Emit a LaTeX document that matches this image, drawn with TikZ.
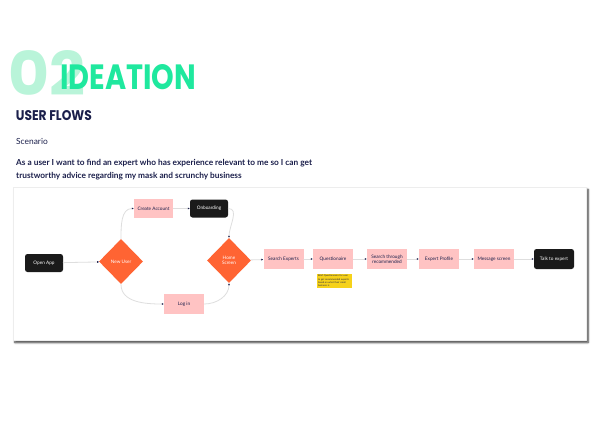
\documentclass[tikz,border=0pt]{standalone}
\usepackage{fontspec}
\setmainfont{Lato}
\newfontfamily\headfont{Poppins}
\usepackage{graphicx}
\usetikzlibrary{arrows.meta,shapes.geometric,shadows.blur}
\definecolor{IdeaGreen}{HTML}{1FE89E}
\definecolor{IdeaMint}{HTML}{B9F4D9}
\definecolor{FlowNavy}{HTML}{1B1F4B}
\definecolor{FlowPink}{HTML}{FFC3C3}
\definecolor{FlowOrange}{HTML}{FF6433}
\definecolor{FlowBlack}{HTML}{1A1A1A}
\definecolor{NoteYellow}{HTML}{F6D21A}

\begin{document}
\begin{tikzpicture}[x=1pt,y=-1pt,line cap=round,line join=round,
  screen/.style={fill=FlowPink,text=FlowNavy,minimum width=40pt,minimum height=20pt,
    inner sep=1pt,align=center,font=\fontsize{4.7}{5.4}\selectfont},
  endpoint/.style={fill=FlowBlack,text=white,rounded corners=2.5pt,minimum width=38pt,
    minimum height=18pt,inner sep=1pt,align=center,font=\fontsize{4.7}{5.4}\selectfont},
  decision/.style={diamond,fill=FlowOrange,text=white,minimum width=44pt,minimum height=45pt,
    inner sep=0pt,align=center,font=\fontsize{4.7}{5.4}\selectfont},
  flow/.style={draw=black!13,line width=0.8pt,-{Latex[length=2pt,width=2pt,color=FlowNavy]}}]
  \useasboundingbox (0,0) rectangle (600,424);
  % heading
  \node[anchor=south west,inner sep=0pt,text=IdeaMint] (num) at (8,96) {\resizebox{77pt}{45pt}{\headfont\bfseries 02}};
  \node[anchor=south west,inner sep=0pt,text=IdeaGreen] (ideation) at (60,90) {\resizebox{136pt}{25pt}{\headfont\bfseries IDEATION}};
  \node[anchor=south west,inner sep=0pt,text=FlowNavy] (userflows) at (15.7,121) {\resizebox{76pt}{10pt}{\headfont\bfseries USER FLOWS}};
  \node[anchor=base west,inner sep=0pt,text=FlowNavy,font=\fontsize{8.4}{9}\selectfont] (scenario) at (16,144) {Scenario};
  \node[anchor=base west,inner sep=0pt,text=FlowNavy,font=\bfseries\fontsize{8.3}{9}\selectfont] (story1) at (16,165) {As a user I want to find an expert who has experience relevant to me so I can get};
  \node[anchor=base west,inner sep=0pt,text=FlowNavy,font=\bfseries\fontsize{8.3}{9}\selectfont] (story2) at (16,178) {trustworthy advice regarding my mask and scrunchy business};
  % board
  \path[fill=white,draw=black!7,blur shadow={shadow xshift=2pt,shadow yshift=-2.5pt,shadow blur steps=6,shadow opacity=80}] (13,187) rectangle (586,340);
  % flow
  \node[endpoint] (openapp) at (44,263) {Open App};
  \node[decision] (newuser) at (121,261.5) {New User};
  \node[screen,minimum width=39pt,minimum height=19pt] (create) at (153.5,208.5) {Create Account};
  \node[screen] (login) at (184,304) {Log in};
  \node[endpoint] (onboard) at (209,208.5) {Onboarding};
  \node[decision] (home) at (229,260.5) {Home\\Screen};
  \node[screen] (search) at (283.5,259) {Search Experts};
  \node[screen] (quest) at (333,259) {Questionaire};
  \node[screen] (recom) at (387,259) {Search through\\recommended};
  \node[screen] (profile) at (439,259) {Expert Profile};
  \node[screen] (message) at (494,259) {Message screen};
  \node[endpoint,minimum width=40pt,minimum height=20pt] (talk) at (554,259) {Talk to expert};
  \node[fill=NoteYellow,text=FlowNavy,inner sep=0.8pt,text width=33pt,align=left,
    font=\fontsize{2.4}{3.3}\selectfont] (brief) at (334.5,281) {Brief Questionnaire for user to get recommended experts based on what their small business is};
  \draw[flow] (openapp) -- (newuser);
  \draw[flow] (newuser.north) to[out=90,in=180] (create.west);
  \draw[flow] (newuser.south) to[out=-90,in=180] (login.west);
  \draw[flow] (create) -- (onboard);
  \draw[flow] (onboard.east) to[out=0,in=90] (home.north);
  \draw[flow] (login.east) to[out=0,in=-90] (home.south);
  \draw[flow] (home) -- (search);
  \draw[flow] (search) -- (quest);
  \draw[flow] (quest) -- (recom);
  \draw[flow] (recom) -- (profile);
  \draw[flow] (profile) -- (message);
  \draw[flow] (message) -- (talk);
\end{tikzpicture}
\end{document}
